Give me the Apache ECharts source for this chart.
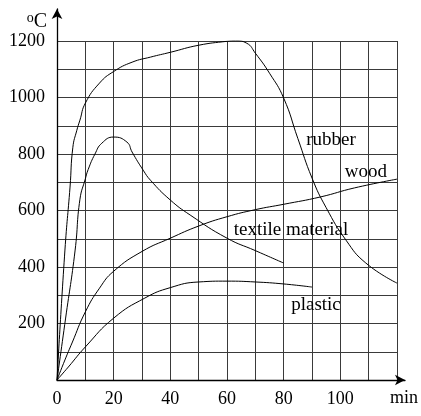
<!DOCTYPE html>
<html>
<head>
<meta charset="utf-8">
<script src="https://cdn.jsdelivr.net/npm/echarts@6/dist/echarts.min.js"></script>
<style>
  html, body { margin: 0; padding: 0; background: #fff; }
  #chart { width: 421px; height: 416px; }
</style>
</head>
<body>
<div id="chart"></div>
<script>
// time in minutes / temperature in degC
const rubberT = [0, 2.8, 4.6, 5.6, 7, 8.1, 10, 15, 20, 26.5, 33, 40, 50, 60, 63, 67, 70, 75, 80, 85, 90, 95, 102, 109, 120]
const rubberC = [0, 460, 683, 824, 884, 920, 980, 1051, 1092, 1125, 1143, 1160, 1185, 1199, 1201, 1192, 1157, 1086, 998, 855, 715, 610, 495, 414, 343]

const textileT = [0, 3, 6.4, 8.1, 10, 11, 13.4, 15.8, 20, 24.7, 26.5, 30.4, 33, 40, 47, 60, 70, 80]
const textileC = [0, 216, 460, 640, 712, 745, 800, 838, 860, 842, 807, 743, 707, 637, 584, 502, 458, 414]

const woodT = [0, 2.8, 5.3, 10, 15, 20, 30, 40, 50, 60, 70, 80, 93, 105, 120]
const woodC = [0, 71, 131, 241, 325, 385, 455, 502, 545, 578, 603, 622, 648, 680, 711]

const plasticT = [0, 4, 10, 20, 31, 40, 50, 60, 70, 80, 90]
const plasticC = [0, 46, 117, 219, 290, 327, 347, 350, 347, 340, 329]

const xLabels = [0, 20, 40, 60, 80, 100]
const yLabels = [200, 400, 600, 800, 1000, 1200]

// where the curve names sit, in data units
const names = ["rubber", "wood", "textile material", "plastic"]
const namePos = [[96.7, 849], [109, 736], [82.6, 531], [91.4, 265]]

const font = "Liberation Serif"

function pairs(ts, cs) {
    return ts.map((t, i) => [t, cs[i]])
}

function curve(name, ts, cs, idx) {
    return {
        name: name,
        type: "line",
        xAxisIndex: 0,
        yAxisIndex: 0,
        data: pairs(ts, cs),
        smooth: 0.5,
        showSymbol: false,
        lineStyle: { color: "#000", width: 1 },
        silent: true,
        markPoint: {
            symbol: "circle",
            symbolSize: 0,
            data: [{ coord: namePos[idx], value: names[idx] }],
            label: {
                show: true,
                position: "inside",
                formatter: names[idx],
                color: "#000",
                fontFamily: font,
                fontSize: 19
            }
        }
    }
}

let chart = echarts.init(document.getElementById("chart"), null, { renderer: "canvas" })

option = {
    animation: false,
    backgroundColor: "#fff",
    grid: [
        { left: 57, top: 41, width: 340, height: 339 },
        { left: 57, top: 9, right: 2, bottom: 36 }
    ],
    xAxis: [
        {
            type: "value", gridIndex: 0, min: 0, max: 120, interval: 10,
            axisLine: { show: false },
            axisTick: { show: false },
            splitLine: { show: true, lineStyle: { color: "#3a3a3a", width: 1 } },
            axisLabel: {
                color: "#000", fontFamily: font, fontSize: 18, margin: 10,
                formatter: v => xLabels.includes(v) ? String(v) : ""
            }
        },
        {
            type: "value", gridIndex: 1, min: 0, max: 1,
            axisLine: { show: true, symbol: ["none", "arrow"], symbolSize: [8, 10], lineStyle: { color: "#000", width: 1.3 } },
            axisTick: { show: false }, axisLabel: { show: false }, splitLine: { show: false },
            name: "min", nameLocation: "end", nameGap: -15,
            nameTextStyle: { color: "#000", fontFamily: font, fontSize: 18, verticalAlign: "top", padding: [9, 0, 0, 0] }
        }
    ],
    yAxis: [
        {
            type: "value", gridIndex: 0, min: 0, max: 1200, interval: 100,
            axisLine: { show: false },
            axisTick: { show: false },
            splitLine: { show: true, lineStyle: { color: "#3a3a3a", width: 1 } },
            axisLabel: {
                color: "#000", fontFamily: font, fontSize: 18, margin: 12,
                formatter: v => yLabels.includes(v) ? String(v) : ""
            }
        },
        {
            type: "value", gridIndex: 1, min: 0, max: 1,
            axisLine: { show: true, symbol: ["none", "arrow"], symbolSize: [8, 10], lineStyle: { color: "#000", width: 1.3 } },
            axisTick: { show: false }, axisLabel: { show: false }, splitLine: { show: false },
            name: "{o|o}{c|C}", nameLocation: "end", nameGap: 0,
            nameTextStyle: {
                align: "right", verticalAlign: "top", padding: [2, 10, 0, 0],
                rich: {
                    o: { fontFamily: font, fontSize: 14, color: "#000", verticalAlign: "top", padding: [0, 0, 8, 0] },
                    c: { fontFamily: font, fontSize: 20, color: "#000" }
                }
            }
        }
    ],
    series: [
        curve("rubber", rubberT, rubberC, 0),
        curve("wood", woodT, woodC, 1),
        curve("textile material", textileT, textileC, 2),
        curve("plastic", plasticT, plasticC, 3)
    ]
}
chart.setOption(option)
</script>
</body>
</html>
